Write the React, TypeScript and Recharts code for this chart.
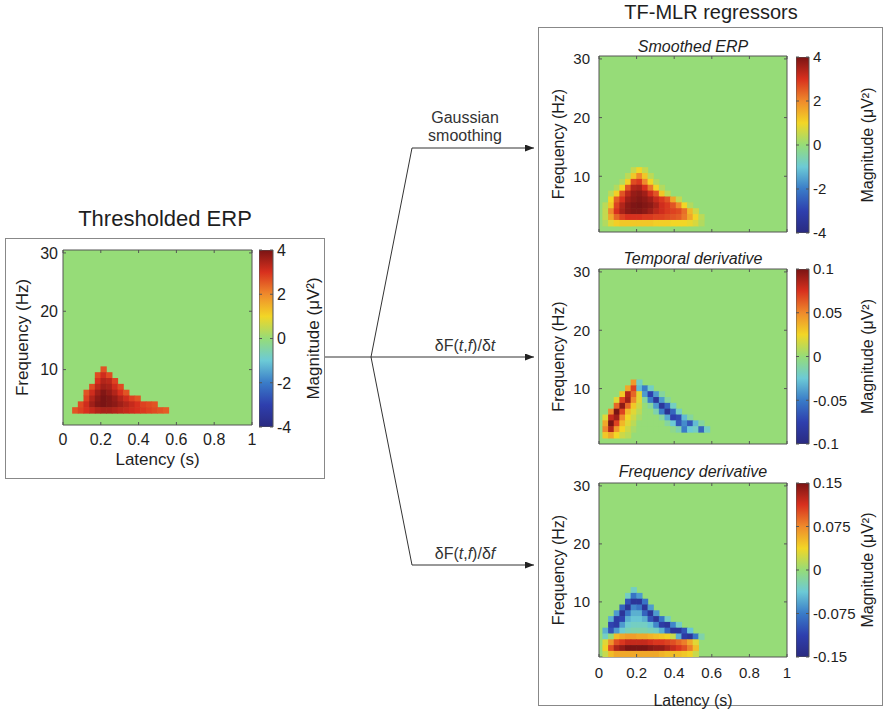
import React from 'react';
import {
  ScatterChart,
  Scatter,
  BarChart,
  Bar,
  XAxis,
  YAxis,
  CartesianGrid,
  ReferenceArea,
  Label,
} from 'recharts';

const FONT = '"Liberation Sans", Arial, Helvetica, sans-serif';
const INK = '#1e1e1e';
const FRAME = '#555';

// time-frequency grid: latency bins of 0.03 s (bin k centred on 0.065 + 0.03k), 1 Hz rows
const BIN = 0.03;
const FIRST_BIN = 0.065;

const latencyTicks = [0, 0.2, 0.4, 0.6, 0.8, 1];
const freqTicks = [10, 20, 30];
const erpScaleTicks = [-4, -2, 0, 2, 4];
const temporalScaleTicks = [-0.1, -0.05, 0, 0.05, 0.1];
const freqScaleTicks = [-0.15, -0.075, 0, 0.075, 0.15];

type Row = { f: number; k: number; v: number[] };

// each row: frequency (Hz), first latency bin, magnitudes along latency
const thresholdedRows: Row[] = [
  { f: 10, k: 5, v: [2.6] },
  { f: 9, k: 4, v: [2.7, 3.1, 2.7] },
  { f: 8, k: 4, v: [3.0, 3.4, 3.3, 2.8] },
  { f: 7, k: 3, v: [2.7, 3.3, 3.6, 3.5, 3.1, 2.7] },
  { f: 6, k: 2, v: [2.6, 3.1, 3.6, 3.9, 3.7, 3.4, 3.0, 2.6] },
  { f: 5, k: 2, v: [2.8, 3.4, 3.8, 4.0, 3.9, 3.7, 3.4, 3.1, 2.8, 2.6] },
  { f: 4, k: 1, v: [2.7, 3.1, 3.6, 3.9, 4.0, 3.9, 3.8, 3.6, 3.4, 3.2, 3.0, 2.8, 2.7, 2.6] },
  { f: 3, k: 0, v: [2.6, 2.8, 3.0, 3.2, 3.4, 3.5, 3.5, 3.4, 3.3, 3.2, 3.1, 3.0, 2.9, 2.8, 2.7, 2.6, 2.5] },
];

const smoothedRows: Row[] = [
  { f: 11, k: 4, v: [0.5, 1.0, 0.5] },
  { f: 10, k: 3, v: [0.4, 1.2, 2.0, 1.2, 0.4] },
  { f: 9, k: 2, v: [0.3, 1.1, 2.7, 2.9, 2.0, 1.0, 0.3] },
  { f: 8, k: 1, v: [0.3, 1.0, 2.6, 3.4, 3.5, 3.0, 2.2, 1.0, 0.3] },
  { f: 7, k: 0, v: [0.4, 1.1, 2.6, 3.3, 3.7, 3.8, 3.6, 3.1, 2.6, 1.2, 0.4] },
  { f: 6, k: 0, v: [1.0, 2.5, 3.0, 3.6, 3.8, 3.9, 3.8, 3.6, 3.2, 2.9, 2.6, 1.6, 0.5] },
  { f: 5, k: -1, v: [0.4, 1.2, 2.8, 3.4, 3.8, 3.95, 4.0, 3.9, 3.8, 3.5, 3.1, 2.9, 2.6, 2.0, 1.0, 0.3] },
  { f: 4, k: -1, v: [0.5, 2.0, 3.0, 3.5, 3.8, 3.9, 3.9, 3.8, 3.6, 3.3, 3.1, 2.9, 2.8, 2.7, 2.3, 1.4, 0.6] },
  { f: 3, k: -1, v: [0.5, 1.6, 2.4, 2.8, 3.0, 3.0, 3.0, 2.9, 2.9, 2.8, 2.8, 2.7, 2.6, 2.5, 2.2, 1.6, 1.0, 0.4] },
  { f: 2, k: -1, v: [0.3, 0.8, 1.1, 1.2, 1.2, 1.2, 1.2, 1.2, 1.2, 1.1, 1.1, 1.1, 1.0, 1.0, 1.0, 0.9, 0.7, 0.3] },
];

const temporalRows: Row[] = [
  { f: 11, k: 4, v: [0.045, -0.02] },
  { f: 10, k: 3, v: [0.04, 0.07, -0.03, -0.05, -0.02] },
  { f: 9, k: 2, v: [0.03, 0.085, 0.06, 0.02, -0.04, -0.075, -0.04, -0.01] },
  { f: 8, k: 1, v: [0.02, 0.07, 0.09, 0.05, 0.02, -0.01, -0.05, -0.085, -0.04, -0.01] },
  { f: 7, k: 1, v: [0.06, 0.095, 0.06, 0.03, 0.015, 0, -0.01, -0.04, -0.085, -0.06, -0.02] },
  { f: 6, k: 0, v: [0.05, 0.1, 0.07, 0.035, 0.02, 0.01, 0, 0, -0.015, -0.05, -0.09, -0.06, -0.02] },
  { f: 5, k: -1, v: [0.02, 0.08, 0.09, 0.05, 0.025, 0.015, 0.005, 0, 0, 0, -0.01, -0.035, -0.075, -0.07, -0.03, -0.01] },
  { f: 4, k: -1, v: [0.04, 0.1, 0.07, 0.035, 0.02, 0.01, 0, 0, 0, 0, 0, -0.01, -0.025, -0.065, -0.045, -0.065, -0.03, -0.01] },
  { f: 3, k: -1, v: [0.05, 0.085, 0.045, 0.025, 0.015, 0.005, 0, 0, 0, 0, 0, 0, -0.005, -0.015, -0.05, -0.025, -0.02, -0.06, -0.02] },
  { f: 2, k: -1, v: [0.03, 0.04, 0.025, 0.015, 0.01] },
];

const freqDerivRows: Row[] = [
  { f: 12, k: 4, v: [-0.03] },
  { f: 11, k: 3, v: [-0.03, -0.08, -0.06] },
  { f: 10, k: 3, v: [-0.1, -0.13, -0.13, -0.08] },
  { f: 9, k: 2, v: [-0.09, -0.13, -0.07, -0.08, -0.13, -0.06] },
  { f: 8, k: 1, v: [-0.06, -0.13, -0.08, -0.05, -0.05, -0.09, -0.13, -0.06] },
  { f: 7, k: 0, v: [-0.05, -0.12, -0.11, -0.05, -0.04, -0.04, -0.05, -0.1, -0.13, -0.08, -0.03] },
  { f: 6, k: 0, v: [-0.11, -0.12, -0.06, -0.035, -0.03, -0.03, -0.03, -0.04, -0.07, -0.12, -0.13, -0.07, -0.03] },
  { f: 5, k: -1, v: [-0.05, -0.1, -0.06, -0.035, -0.025, -0.02, -0.02, -0.02, -0.025, -0.03, -0.05, -0.09, -0.13, -0.13, -0.1, -0.04] },
  { f: 4, k: -1, v: [-0.03, 0.0, 0.05, 0.06, 0.065, 0.065, 0.06, 0.06, 0.055, 0.05, 0.045, 0.04, 0.02, -0.05, -0.12, -0.13, -0.08, -0.02] },
  { f: 3, k: -1, v: [0.03, 0.07, 0.1, 0.11, 0.12, 0.12, 0.12, 0.12, 0.115, 0.11, 0.11, 0.105, 0.1, 0.09, 0.08, 0.06, 0.03] },
  { f: 2, k: -1, v: [0.04, 0.1, 0.13, 0.14, 0.15, 0.15, 0.15, 0.15, 0.145, 0.14, 0.14, 0.13, 0.12, 0.11, 0.1, 0.08, 0.05] },
  { f: 1, k: -1, v: [0.02, 0.05, 0.06, 0.06, 0.06, 0.06, 0.06, 0.06, 0.06, 0.06, 0.055, 0.05, 0.05, 0.05, 0.045, 0.04, 0.02] },
];

// washed-out jet, as in the scanned figure
const colormap: [number, string][] = [
  [0, '#2a2a80'],
  [0.125, '#2e3fae'],
  [0.25, '#3a7cc8'],
  [0.375, '#6ccad6'],
  [0.5, '#96dc78'],
  [0.625, '#f2d626'],
  [0.75, '#ef8a2c'],
  [0.875, '#d8301e'],
  [1, '#7a1414'],
];
const BG = '#96dc78';

function hexRgb(h: string) {
  return [1, 3, 5].map((i) => parseInt(h.slice(i, i + 2), 16));
}

function jet(x: number) {
  const p = Math.max(0, Math.min(1, (x + 1) / 2));
  for (let i = 1; i < colormap.length; i++) {
    const [p1, c1] = colormap[i];
    if (p <= p1) {
      const [p0, c0] = colormap[i - 1];
      const s = (p - p0) / (p1 - p0);
      const a = hexRgb(c0);
      const b = hexRgb(c1);
      return `rgb(${a.map((v, j) => Math.round(v + (b[j] - v) * s)).join(',')})`;
    }
  }
  return colormap[colormap.length - 1][1];
}

const toCells = (rows: Row[]) =>
  rows.flatMap((r) => r.v.map((v, i) => ({ t: FIRST_BIN + BIN * (r.k + i), f: r.f, v })));

type Box = { x: number; y: number; w: number; h: number };

interface HeatmapProps {
  plot: Box;
  rows: Row[];
  vmax: number;
  showLatency: boolean;
  yGap: number;
  xTickGap?: number;
  xLabelGap?: number;
  tickFont?: number;
  labelFont?: number;
}

function Heatmap({
  plot,
  rows,
  vmax,
  showLatency,
  yGap,
  xTickGap = 14,
  xLabelGap = 40,
  tickFont = 15,
  labelFont = 16,
}: HeatmapProps) {
  const axisW = 60;
  const mt = 10;
  const mr = 12;
  const xh = showLatency ? 56 : 6;
  const top = mt;
  const bottom = mt + plot.h;
  const left = axisW;
  const right = axisW + plot.w;
  const cw = plot.w * BIN + 0.6;
  const ch = plot.h / 30 + 0.6;
  const cells = toCells(rows);

  const xTick = (p: any) => (
    <g>
      <line x1={p.x} x2={p.x} y1={bottom} y2={bottom - 3} stroke={FRAME} />
      <line x1={p.x} x2={p.x} y1={top} y2={top + 3} stroke={FRAME} />
      {showLatency && (
        <text x={p.x} y={bottom + xTickGap} dy="0.36em" textAnchor="middle" fontSize={tickFont} fill={INK} fontFamily={FONT}>
          {p.payload.value}
        </text>
      )}
    </g>
  );

  const yTick = (p: any) => (
    <g>
      <line x1={left} x2={left + 3} y1={p.y} y2={p.y} stroke={FRAME} />
      <line x1={right} x2={right - 3} y1={p.y} y2={p.y} stroke={FRAME} />
      <text x={left - yGap} y={p.y} dy="0.36em" textAnchor="end" fontSize={tickFont} fill={INK} fontFamily={FONT}>
        {p.payload.value}
      </text>
    </g>
  );

  const cellShape = (p: any) => (
    <rect x={p.cx - cw / 2} y={p.cy - ch / 2} width={cw} height={ch} fill={jet(p.payload.v / vmax)} />
  );

  return (
    <div style={{ position: 'absolute', left: plot.x - axisW, top: plot.y - mt }}>
      <ScatterChart
        width={axisW + plot.w + mr}
        height={mt + plot.h + xh}
        margin={{ top: mt, right: mr, bottom: 0, left: 0 }}
      >
        <CartesianGrid horizontal={false} vertical={false} fill={BG} />
        <XAxis
          type="number"
          dataKey="t"
          domain={[0, 1]}
          ticks={latencyTicks}
          interval={0}
          allowDataOverflow
          height={xh}
          axisLine={false}
          tickSize={0}
          tick={xTick}
        >
          {showLatency && (
            <Label
              value="Latency (s)"
              position="insideBottom"
              offset={xh - xLabelGap}
              fill={INK}
              style={{ fontSize: labelFont, fontFamily: FONT }}
            />
          )}
        </XAxis>
        <YAxis
          type="number"
          dataKey="f"
          domain={[0.5, 30.5]}
          ticks={freqTicks}
          interval={0}
          allowDataOverflow
          width={axisW}
          axisLine={false}
          tickSize={0}
          tick={yTick}
        >
          <Label
            value="Frequency (Hz)"
            angle={-90}
            position="insideLeft"
            offset={19}
            fill={INK}
            style={{ fontSize: labelFont, fontFamily: FONT, textAnchor: 'middle' }}
          />
        </YAxis>
        <Scatter data={cells} shape={cellShape} isAnimationActive={false} />
        <ReferenceArea x1={0} x2={1} y1={0.5} y2={30.5} fill="none" stroke={FRAME} strokeWidth={1} />
      </ScatterChart>
    </div>
  );
}

interface ColorbarProps {
  bar: Box;
  ticks: number[];
  id: string;
  labelX: number;
  tickFont?: number;
  labelFont?: number;
}

function Colorbar({ bar, ticks, id, labelX, tickFont = 15, labelFont = 16 }: ColorbarProps) {
  const axisW = 80;
  const mt = 10;
  const mb = 10;
  const lo = ticks[0];
  const hi = ticks[ticks.length - 1];
  const scaleData = [{ n: 'scale', span: [lo, hi] }];
  const w = bar.w;

  const cbTick = (p: any) => (
    <g>
      <line x1={w} x2={w - 3} y1={p.y} y2={p.y} stroke={FRAME} />
      <line x1={0} x2={3} y1={p.y} y2={p.y} stroke={FRAME} />
      <text x={w + 4} y={p.y} dy="0.36em" textAnchor="start" fontSize={tickFont} fill={INK} fontFamily={FONT}>
        {p.payload.value}
      </text>
    </g>
  );

  return (
    <div style={{ position: 'absolute', left: bar.x, top: bar.y - mt }}>
      <BarChart
        width={w + axisW}
        height={bar.h + mt + mb}
        data={scaleData}
        margin={{ top: mt, bottom: mb, left: 0, right: 0 }}
        barCategoryGap={0}
        barGap={0}
      >
        <defs>
          <linearGradient id={id} x1="0" y1="1" x2="0" y2="0">
            {colormap.map(([o, c]) => (
              <stop key={o} offset={o} stopColor={c} />
            ))}
          </linearGradient>
        </defs>
        <XAxis dataKey="n" hide />
        <YAxis
          orientation="right"
          type="number"
          domain={[lo, hi]}
          ticks={ticks}
          interval={0}
          allowDataOverflow
          width={axisW}
          axisLine={false}
          tickSize={0}
          tick={cbTick}
        >
          <Label
            value="Magnitude (μV²)"
            angle={-90}
            position="insideRight"
            offset={w + axisW - (labelX - bar.x)}
            fill={INK}
            style={{ fontSize: labelFont, fontFamily: FONT, textAnchor: 'middle' }}
          />
        </YAxis>
        <Bar dataKey="span" fill={`url(#${id})`} stroke={FRAME} isAnimationActive={false} />
      </BarChart>
    </div>
  );
}

export default function App() {
  const line = '#333';
  return (
    <div
      style={{
        position: 'absolute',
        left: 0,
        top: 0,
        width: 885,
        height: 715,
        background: '#fff',
        fontFamily: FONT,
        color: INK,
      }}
    >
      <svg width={885} height={715} style={{ position: 'absolute', left: 0, top: 0 }}>
        <defs>
          <marker id="head" markerUnits="userSpaceOnUse" markerWidth={10} markerHeight={8} refX={9} refY={3.5} orient="auto">
            <path d="M0,0 L9,3.5 L0,7 z" fill="#222" />
          </marker>
        </defs>
        <rect x={5.5} y={238.5} width={319} height={240} fill="none" stroke="#888" />
        <rect x={538.5} y={27.5} width={344} height={678} fill="none" stroke="#888" />
        <polyline points="325,357 534,357" fill="none" stroke={line} markerEnd="url(#head)" />
        <polyline points="371,357 412,148 534,148" fill="none" stroke={line} markerEnd="url(#head)" />
        <polyline points="371,357 412,565 534,565" fill="none" stroke={line} markerEnd="url(#head)" />
        <g fontFamily={FONT} fill="#333" fontSize={16} textAnchor="middle" dominantBaseline="central">
          <text x={465} y={117}>Gaussian</text>
          <text x={465} y={135}>smoothing</text>
          <text x={465} y={345}>
            δF(<tspan fontStyle="italic">t</tspan>,<tspan fontStyle="italic">f</tspan>)/δ<tspan fontStyle="italic">t</tspan>
          </text>
          <text x={465} y={553}>
            δF(<tspan fontStyle="italic">t</tspan>,<tspan fontStyle="italic">f</tspan>)/δ<tspan fontStyle="italic">f</tspan>
          </text>
        </g>
        <g fontFamily={FONT} fill={INK} textAnchor="middle" dominantBaseline="central">
          <text x={165} y={218} fontSize={22}>Thresholded ERP</text>
          <text x={711} y={12} fontSize={20}>TF-MLR regressors</text>
          <text x={693} y={46} fontSize={16} fontStyle="italic">Smoothed ERP</text>
          <text x={693} y={258} fontSize={16} fontStyle="italic">Temporal derivative</text>
          <text x={693} y={471} fontSize={16} fontStyle="italic">Frequency derivative</text>
        </g>
      </svg>

      <Heatmap
        plot={{ x: 63, y: 250, w: 189, h: 175 }}
        rows={thresholdedRows}
        vmax={4}
        showLatency
        yGap={5}
        xTickGap={14}
        xLabelGap={40}
        tickFont={16}
        labelFont={17}
      />
      <Colorbar bar={{ x: 259, y: 250, w: 14, h: 177 }} ticks={erpScaleTicks} id="cb-left" labelX={313} tickFont={16} labelFont={17} />

      <Heatmap plot={{ x: 599, y: 56, w: 188, h: 176 }} rows={smoothedRows} vmax={4} showLatency={false} yGap={9} />
      <Colorbar bar={{ x: 796, y: 57, w: 13, h: 176 }} ticks={erpScaleTicks} id="cb-1" labelX={867} />

      <Heatmap plot={{ x: 599, y: 269, w: 188, h: 175 }} rows={temporalRows} vmax={0.1} showLatency={false} yGap={9} />
      <Colorbar bar={{ x: 796, y: 269, w: 13, h: 175 }} ticks={temporalScaleTicks} id="cb-2" labelX={867} />

      <Heatmap plot={{ x: 599, y: 483, w: 188, h: 174 }} rows={freqDerivRows} vmax={0.15} showLatency yGap={9} xTickGap={16} xLabelGap={49} />
      <Colorbar bar={{ x: 796, y: 483, w: 13, h: 174 }} ticks={freqScaleTicks} id="cb-3" labelX={867} />
    </div>
  );
}
